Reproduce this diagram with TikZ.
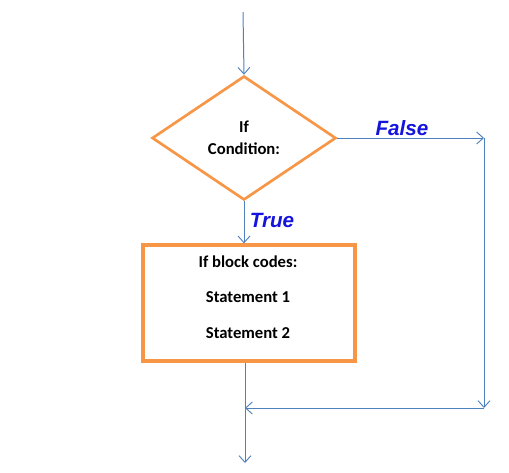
\documentclass[tikz,border=0pt]{standalone}
\usepackage{fontspec}
\setmainfont{Carlito}
\newfontfamily\labelfont{Liberation Sans}
\usetikzlibrary{arrows.meta,shapes.geometric}
\definecolor{flowline}{RGB}{79,129,189}
\definecolor{flowedge}{RGB}{247,150,70}
\definecolor{flowlabel}{RGB}{20,20,220}
\tikzset{
    line/.style={draw=flowline, line width=0.75pt, -{Straight Barb[length=5pt,width=9pt,line width=0.7pt]}},
    decision/.style={diamond, draw=flowedge, line width=2pt, inner sep=0pt, minimum width=138pt, minimum height=93pt, align=center, font=\bfseries\fontsize{12.5}{16.5}\selectfont},
    blockbox/.style={rectangle, draw=flowedge, line width=2.5pt, minimum width=159pt, minimum height=87pt},
    blocktext/.style={align=center, font=\bfseries\fontsize{12.5}{26.5}\selectfont},
    branch/.style={text=flowlabel, font=\labelfont\bfseries\itshape\fontsize{15.5}{18}\selectfont}
}

\begin{document}
\begin{tikzpicture}
                \tikzset{x={(0.75pt, 0pt)}, y={(0pt, -0.75pt)}}
                \useasboundingbox (0, 0) rectangle (509, 472);
                % shapes
                \node[decision] (cond) at (244, 138) {If\\Condition:};
                \node[blockbox] (block) at (249, 303) {};
                \node[blocktext] (body) at (248, 297) {If block codes:\\Statement 1\\Statement 2};
                % corner points
                \coordinate (start) at (243, 12);
                \coordinate (fcorner) at (484, 138);
                \coordinate (jcorner) at (484, 408);
                \coordinate (join) at (245, 408);
                \coordinate (stop) at (245, 463);
                % connectors
                \draw[line] (start) -- (cond.north);
                \draw[line] (cond.south) -- (cond.south |- block.north);
                \draw[line] (cond.east) -- (fcorner);
                \draw[line] (fcorner) -- (jcorner);
                \draw[line] (jcorner) -- (join);
                \draw[line] (block.south -| join) -- (stop);
                % branch labels
                \node[branch] (true) at (272, 220) {True};
                \node[branch] (false) at (402, 128) {False};
            \end{tikzpicture}
\end{document}
